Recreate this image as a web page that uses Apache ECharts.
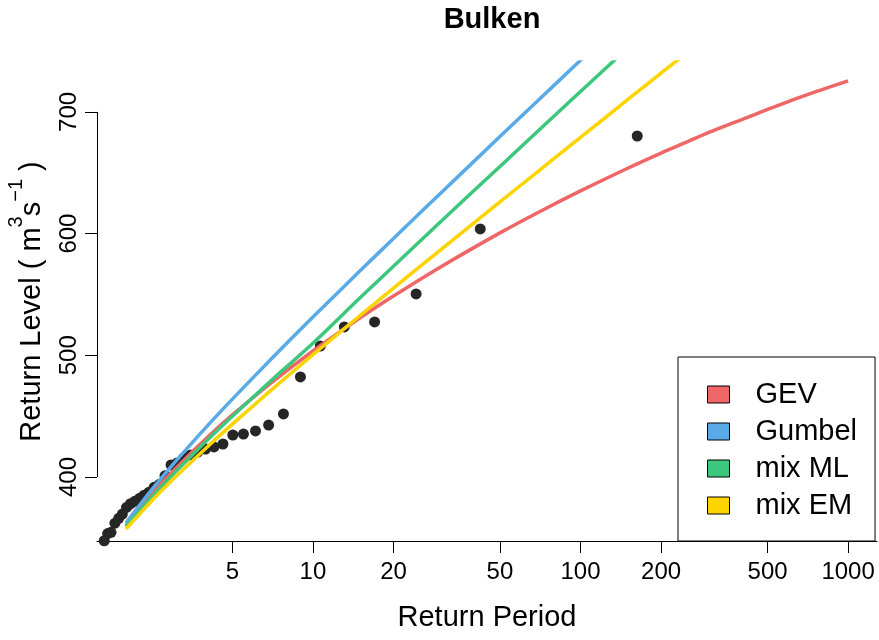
<!DOCTYPE html>
<html>
<head>
<meta charset="utf-8">
<script src="https://cdn.jsdelivr.net/npm/echarts@6/dist/echarts.min.js"></script>
<style>
  html, body { margin: 0; padding: 0; background: #fff; }
  #chart { width: 879px; height: 640px; }
</style>
</head>
<body>
<div id="chart"></div>
<script>
// Observed annual maxima (plotting-position return period, level in m3/s)
const pointPeriod = [162.9, 42.2, 24.3, 17.0, 13.1, 10.65, 8.98, 7.76, 6.83, 6.10, 5.50, 5.02,
  4.61, 4.27, 3.97, 3.71, 3.49, 3.29, 3.11, 2.95, 2.80, 2.67, 2.55, 2.44, 2.34, 2.25, 2.16,
  2.08, 2.01, 1.94, 1.88, 1.82, 1.76, 1.71, 1.66];
const pointLevel = [680.2, 603.8, 550.4, 527.4, 523.3, 507.6, 482.2, 451.8, 442.7, 437.8, 435.3, 434.5,
  427.1, 424.7, 423.0, 420.5, 418.1, 415.6, 411.5, 409.9, 401.0, 394.0, 391.5, 387.5, 385.0, 382.5, 380.0,
  378.0, 375.0, 369.5, 366.0, 362.0, 354.5, 353.5, 347.6];

// Fitted return-level curves
const curvePeriod = [2, 2.5, 3, 4, 5, 7, 10, 15, 20, 30, 50, 70, 100, 150, 200, 250, 300, 400, 500, 700, 1000];
const gevLevel    = [360.0, 386.0, 404.9, 431.9, 451.0, 477.6, 503.5, 530.7, 548.7, 572.6, 600.6, 617.8, 635.1, 653.7, 666.2, 675.3, 682.9, 693.6, 702.0, 714.0, 725.5];
const gumbelLevel = [362.2, 389.6, 410.4, 441.2, 464.0, 497.2, 531.4, 569.4, 596.0, 633.2, 679.7, 710.2, 742.4, 779.0, null, null, null, null, null, null, null];
const mixMLLevel  = [359.2, 383.6, 402.1, 429.6, 449.9, 479.5, 509.9, 547.2, 573.2, 609.7, 655.2, 685.1, 716.7, 752.5, null, null, null, null, null, null, null];
const mixEMLevel  = [357.3, 380.5, 398.1, 424.1, 443.4, 471.6, 500.5, 532.7, 555.2, 586.7, 626.0, 651.8, 679.1, 710.0, 731.9, 748.6, 762.8, null, null, null, null];

const seriesNames = ['GEV', 'Gumbel', 'mix ML', 'mix EM'];
const seriesColors = ['#EE6666', '#5AAAE8', '#3DC77C', '#FDD300'];
const curveLevels = [gevLevel, gumbelLevel, mixMLLevel, mixEMLevel];

const xTicks = [5, 10, 20, 50, 100, 200, 500, 1000];
const yTicks = [400, 500, 600, 700];

// axis limits: fitted range widened by 4% on each side (log scale for x)
const xLo = Math.log10(2), xHi = Math.log10(1000);
const xMin = Math.pow(10, xLo - 0.04 * (xHi - xLo));
const xMax = Math.pow(10, xHi + 0.04 * (xHi - xLo));
const yMin = 347.4, yMax = 741.0;

const font = 'Liberation Sans, Arial, Helvetica, sans-serif';
const pair = (xs, ys) => xs.map((x, i) => [x, ys[i]]);

const chart = echarts.init(document.getElementById('chart'));

const series = [{
  type: 'scatter',
  name: 'observed',
  data: pair(pointPeriod, pointLevel),
  symbol: 'circle',
  symbolSize: 11,
  itemStyle: { color: '#262626', opacity: 1 },
  clip: true,
  silent: true,
  markLine: {
    silent: true,
    symbol: ['none', 'none'],
    label: { show: false },
    lineStyle: { color: '#000', width: 1, type: 'solid' },
    data: [[{ coord: [xMin, yTicks[0]] }, { coord: [xMin, yTicks[yTicks.length - 1]] }]]
  }
}];
seriesNames.forEach((name, k) => {
  series.push({
    type: 'line',
    name: name,
    data: pair(curvePeriod, curveLevels[k]),
    showSymbol: false,
    symbol: 'none',
    smooth: 0.25,
    clip: true,
    connectNulls: false,
    itemStyle: { color: seriesColors[k] },
    lineStyle: { color: seriesColors[k], width: 3.5 },
    silent: true
  });
});

chart.setOption({
  animation: false,
  backgroundColor: '#fff',
  textStyle: { fontFamily: font, color: '#000' },
  title: {
    text: 'Bulken',
    left: 487,
    textAlign: 'center',
    top: 0,
    textStyle: { fontFamily: font, fontSize: 29, fontWeight: 'bold', color: '#000' }
  },
  grid: { left: 97, right: 2, top: 62, bottom: 99, containLabel: false, outerBoundsMode: 'none' },
  xAxis: {
    type: 'log',
    logBase: 10,
    min: xMin,
    max: xMax,
    name: 'Return Period',
    nameLocation: 'middle',
    nameGap: 62,
    nameTextStyle: { fontSize: 29, color: '#000', fontFamily: font },
    axisLine: { show: true, lineStyle: { color: '#000', width: 1 } },
    axisTick: { show: true, inside: false, length: 12, lineStyle: { color: '#000', width: 1 }, customValues: xTicks },
    axisLabel: {
      fontSize: 24, color: '#000', margin: 19, fontFamily: font, customValues: xTicks,
      formatter: v => String(Math.round(v))
    },
    splitLine: { show: false },
    minorTick: { show: false }
  },
  yAxis: {
    type: 'value',
    min: yMin,
    max: yMax,
    name: '{b|Return Level ( m}{s|3}{b|s}{s|\u22121}{b| )}',
    nameLocation: 'middle',
    nameGap: 51,
    nameTextStyle: {
      fontFamily: font, color: '#000',
      rich: {
        b: { fontSize: 29, fontFamily: font, verticalAlign: 'bottom', lineHeight: 40 },
        s: { fontSize: 20, fontFamily: font, verticalAlign: 'top', lineHeight: 40 }
      }
    },
    axisLine: { show: false },
    axisTick: { show: true, inside: false, length: 12, lineStyle: { color: '#000', width: 1 }, customValues: yTicks },
    axisLabel: { fontSize: 24, color: '#000', rotate: 90, margin: 16, fontFamily: font, customValues: yTicks },
    splitLine: { show: false }
  },
  legend: {
    data: seriesNames,
    orient: 'vertical',
    left: 678,
    top: 357,
    padding: [23, 18, 21, 29],
    itemGap: 8,
    itemWidth: 22,
    itemHeight: 17,
    icon: 'rect',
    itemStyle: { borderColor: '#000', borderWidth: 1 },
    backgroundColor: '#fff',
    borderColor: '#000',
    borderWidth: 1,
    borderRadius: 0,
    selectedMode: false,
    textStyle: { fontSize: 29, color: '#000', fontFamily: font, padding: [0, 0, 0, 21] }
  },
  series: series
});
</script>
</body>
</html>
